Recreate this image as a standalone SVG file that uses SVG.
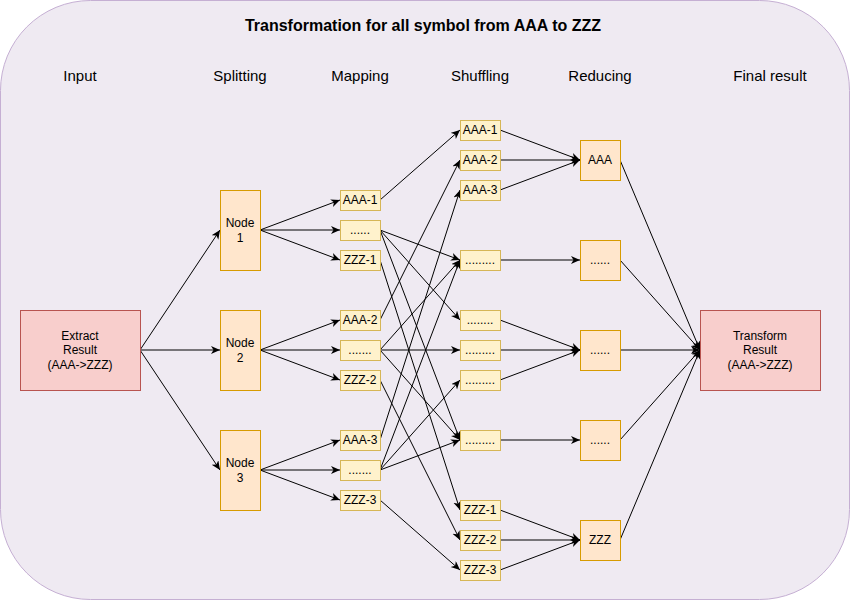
<svg xmlns="http://www.w3.org/2000/svg" width="851" height="601" viewBox="0 0 851 601">
<defs>
<marker id="arr" markerUnits="userSpaceOnUse" markerWidth="12" markerHeight="12" refX="9" refY="4" orient="auto">
<path d="M0,0 L9,4 L0,8 L2.5,4 Z" fill="#000"/>
</marker>
<style>
text{font-family:"Liberation Sans",Arial,sans-serif;fill:#000;text-anchor:middle}
.t{font-size:12px}
.h{font-size:15px}
.title{font-size:16px;font-weight:bold}
.red{fill:#f8cecc;stroke:#b85450}
.org{fill:#ffe6cc;stroke:#d79b00}
.yel{fill:#fff2cc;stroke:#d6b656}
#edges line{stroke:#000;stroke-width:1;marker-end:url(#arr)}
</style>
</defs>
<rect x="0.5" y="0.5" width="849" height="599" rx="90" ry="90" fill="#efeaf2" stroke="#c5afd3"/>
<text class="title" x="423" y="31">Transformation for all symbol from AAA to ZZZ</text>
<g id="headers">
<text class="h" x="80" y="81">Input</text>
<text class="h" x="240" y="81">Splitting</text>
<text class="h" x="360" y="81">Mapping</text>
<text class="h" x="480" y="81">Shuffling</text>
<text class="h" x="600" y="81">Reducing</text>
<text class="h" x="770" y="81">Final result</text>
</g>
<g id="edges">
<line x1="140" y1="350" x2="220" y2="230"/>
<line x1="140" y1="350" x2="220" y2="350"/>
<line x1="140" y1="350" x2="220" y2="470"/>
<line x1="260" y1="230" x2="340" y2="200"/>
<line x1="260" y1="230" x2="340" y2="230"/>
<line x1="260" y1="230" x2="340" y2="260"/>
<line x1="260" y1="350" x2="340" y2="320"/>
<line x1="260" y1="350" x2="340" y2="350"/>
<line x1="260" y1="350" x2="340" y2="380"/>
<line x1="260" y1="470" x2="340" y2="440"/>
<line x1="260" y1="470" x2="340" y2="470"/>
<line x1="260" y1="470" x2="340" y2="500"/>
<line x1="380" y1="200" x2="460" y2="130"/>
<line x1="380" y1="320" x2="460" y2="160"/>
<line x1="380" y1="440" x2="460" y2="190"/>
<line x1="380" y1="260" x2="460" y2="510"/>
<line x1="380" y1="380" x2="460" y2="540"/>
<line x1="380" y1="500" x2="460" y2="570"/>
<line x1="380" y1="230" x2="460" y2="260"/>
<line x1="380" y1="230" x2="460" y2="320"/>
<line x1="380" y1="230" x2="460" y2="440"/>
<line x1="380" y1="350" x2="460" y2="260"/>
<line x1="380" y1="350" x2="460" y2="350"/>
<line x1="380" y1="350" x2="460" y2="440"/>
<line x1="380" y1="470" x2="460" y2="260"/>
<line x1="380" y1="470" x2="460" y2="380"/>
<line x1="380" y1="470" x2="460" y2="440"/>
<line x1="500" y1="130" x2="580" y2="160"/>
<line x1="500" y1="160" x2="580" y2="160"/>
<line x1="500" y1="190" x2="580" y2="160"/>
<line x1="500" y1="260" x2="580" y2="260"/>
<line x1="500" y1="320" x2="580" y2="350"/>
<line x1="500" y1="350" x2="580" y2="350"/>
<line x1="500" y1="380" x2="580" y2="350"/>
<line x1="500" y1="440" x2="580" y2="440"/>
<line x1="500" y1="510" x2="580" y2="540"/>
<line x1="500" y1="540" x2="580" y2="540"/>
<line x1="500" y1="570" x2="580" y2="540"/>
<line x1="620" y1="160" x2="700" y2="350"/>
<line x1="620" y1="260" x2="700" y2="350"/>
<line x1="620" y1="350" x2="700" y2="350"/>
<line x1="620" y1="440" x2="700" y2="350"/>
<line x1="620" y1="540" x2="700" y2="350"/>
</g>
<g id="extract"><rect class="red" x="20.5" y="310.5" width="120" height="80"/><text class="t" x="80" y="340">Extract</text><text class="t" x="80" y="354">Result</text><text class="t" x="80" y="369">(AAA-&gt;ZZZ)</text></g>
<g id="transform"><rect class="red" x="700.5" y="310.5" width="120" height="80"/><text class="t" x="760" y="340">Transform</text><text class="t" x="760" y="354">Result</text><text class="t" x="760" y="369">(AAA-&gt;ZZZ)</text></g>
<g id="node1"><rect class="org" x="220.5" y="190.5" width="40" height="80"/><text class="t" x="240" y="227">Node</text><text class="t" x="240" y="242">1</text></g>
<g id="node2"><rect class="org" x="220.5" y="310.5" width="40" height="80"/><text class="t" x="240" y="347">Node</text><text class="t" x="240" y="362">2</text></g>
<g id="node3"><rect class="org" x="220.5" y="430.5" width="40" height="80"/><text class="t" x="240" y="467">Node</text><text class="t" x="240" y="482">3</text></g>
<g id="map-aaa1"><rect class="yel" x="340.5" y="190.5" width="40" height="20"/><text class="t" x="360" y="204">AAA-1</text></g>
<g id="map-dots1"><rect class="yel" x="340.5" y="220.5" width="40" height="20"/><text class="t" x="360" y="234">......</text></g>
<g id="map-zzz1"><rect class="yel" x="340.5" y="250.5" width="40" height="20"/><text class="t" x="360" y="264">ZZZ-1</text></g>
<g id="map-aaa2"><rect class="yel" x="340.5" y="310.5" width="40" height="20"/><text class="t" x="360" y="324">AAA-2</text></g>
<g id="map-dots2"><rect class="yel" x="340.5" y="340.5" width="40" height="20"/><text class="t" x="360" y="354">.......</text></g>
<g id="map-zzz2"><rect class="yel" x="340.5" y="370.5" width="40" height="20"/><text class="t" x="360" y="384">ZZZ-2</text></g>
<g id="map-aaa3"><rect class="yel" x="340.5" y="430.5" width="40" height="20"/><text class="t" x="360" y="444">AAA-3</text></g>
<g id="map-dots3"><rect class="yel" x="340.5" y="460.5" width="40" height="20"/><text class="t" x="360" y="474">.......</text></g>
<g id="map-zzz3"><rect class="yel" x="340.5" y="490.5" width="40" height="20"/><text class="t" x="360" y="504">ZZZ-3</text></g>
<g id="sh-aaa1"><rect class="yel" x="460.5" y="120.5" width="40" height="20"/><text class="t" x="480" y="134">AAA-1</text></g>
<g id="sh-aaa2"><rect class="yel" x="460.5" y="150.5" width="40" height="20"/><text class="t" x="480" y="164">AAA-2</text></g>
<g id="sh-aaa3"><rect class="yel" x="460.5" y="180.5" width="40" height="20"/><text class="t" x="480" y="194">AAA-3</text></g>
<g id="sh-dots1"><rect class="yel" x="460.5" y="250.5" width="40" height="20"/><text class="t" x="480" y="264">.........</text></g>
<g id="sh-dots2"><rect class="yel" x="460.5" y="310.5" width="40" height="20"/><text class="t" x="480" y="324">........</text></g>
<g id="sh-dots3"><rect class="yel" x="460.5" y="340.5" width="40" height="20"/><text class="t" x="480" y="354">.........</text></g>
<g id="sh-dots4"><rect class="yel" x="460.5" y="370.5" width="40" height="20"/><text class="t" x="480" y="384">.........</text></g>
<g id="sh-dots5"><rect class="yel" x="460.5" y="430.5" width="40" height="20"/><text class="t" x="480" y="444">.........</text></g>
<g id="sh-zzz1"><rect class="yel" x="460.5" y="500.5" width="40" height="20"/><text class="t" x="480" y="514">ZZZ-1</text></g>
<g id="sh-zzz2"><rect class="yel" x="460.5" y="530.5" width="40" height="20"/><text class="t" x="480" y="544">ZZZ-2</text></g>
<g id="sh-zzz3"><rect class="yel" x="460.5" y="560.5" width="40" height="20"/><text class="t" x="480" y="574">ZZZ-3</text></g>
<g id="red-aaa"><rect class="org" x="580.5" y="140.5" width="40" height="40"/><text class="t" x="600" y="164">AAA</text></g>
<g id="red-dots1"><rect class="org" x="580.5" y="240.5" width="40" height="40"/><text class="t" x="600" y="264">......</text></g>
<g id="red-dots2"><rect class="org" x="580.5" y="330.5" width="40" height="40"/><text class="t" x="600" y="354">......</text></g>
<g id="red-dots3"><rect class="org" x="580.5" y="420.5" width="40" height="40"/><text class="t" x="600" y="444">......</text></g>
<g id="red-zzz"><rect class="org" x="580.5" y="520.5" width="40" height="40"/><text class="t" x="600" y="544">ZZZ</text></g>
</svg>
